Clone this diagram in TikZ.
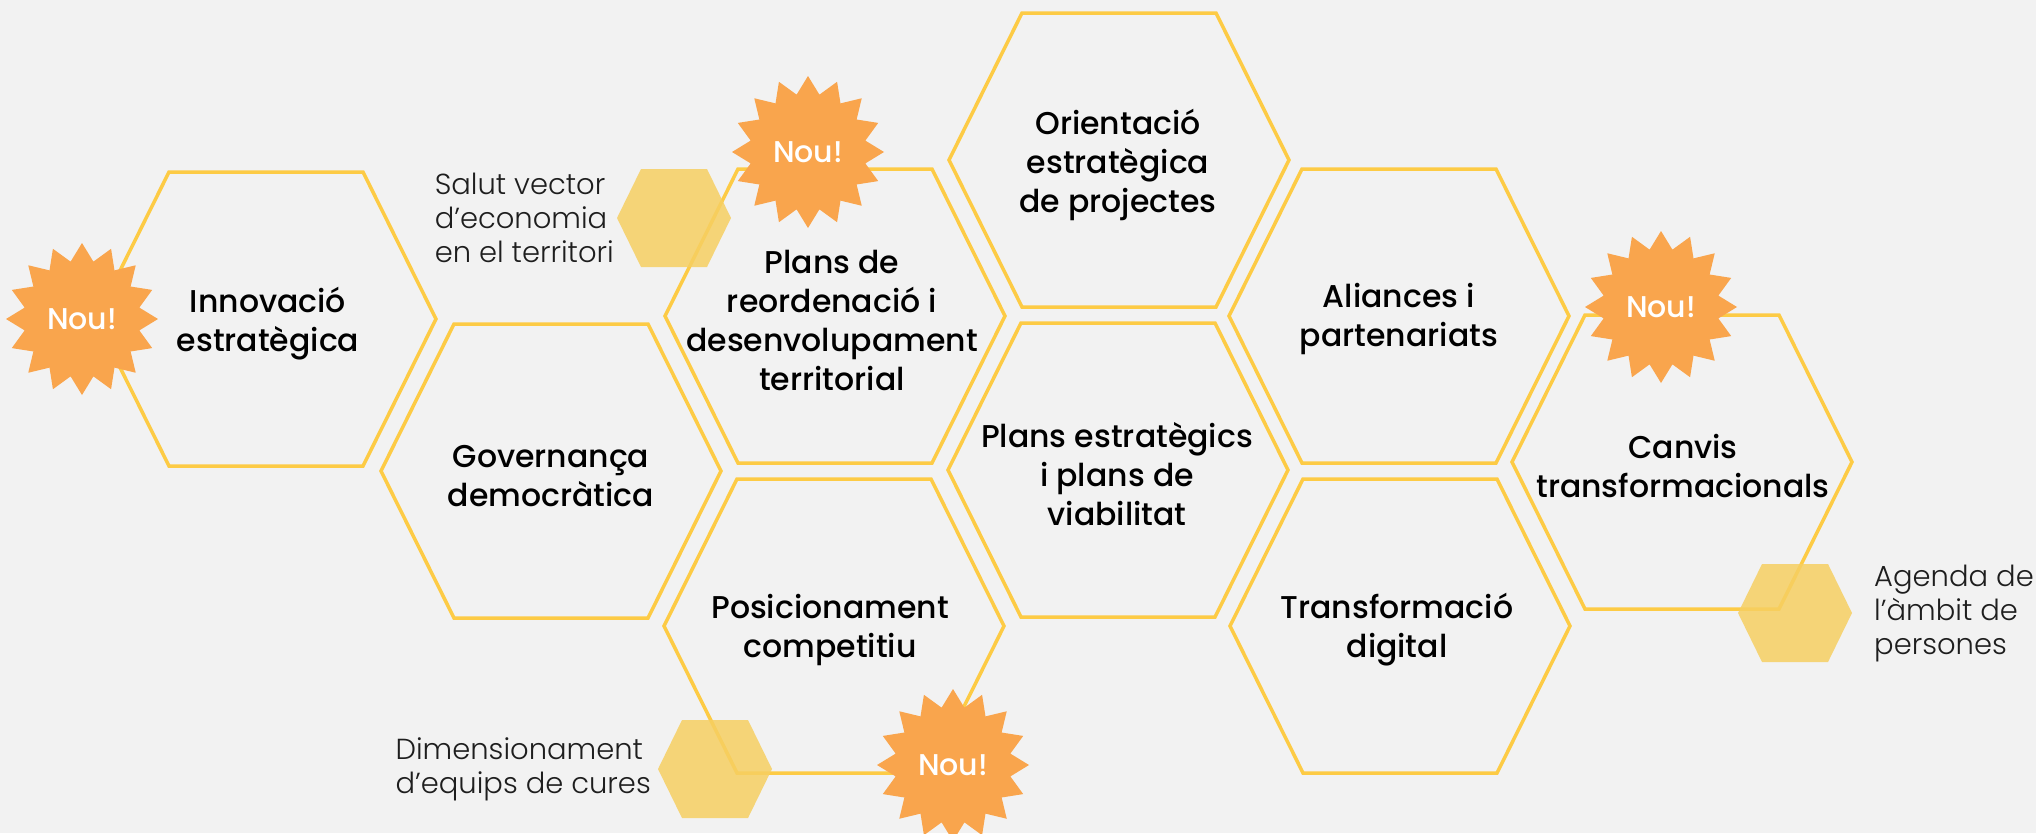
\documentclass[tikz,border=0pt]{standalone}
\usepackage{fontspec}
\setmainfont{Poppins}[UprightFont={* Medium}]
\newfontfamily\lightfont{Poppins}[UprightFont={* Light}]
\usetikzlibrary{shapes.geometric,positioning}

\definecolor{hexgold}{HTML}{FDCB45}
\definecolor{nouorange}{HTML}{F9A54D}
\definecolor{minigold}{HTML}{F6CF62}
\definecolor{paper}{HTML}{F2F2F2}
\definecolor{sideink}{HTML}{1E1E1E}

\tikzset{
  hexline/.style={draw=hexgold, line width=3.5pt, line join=miter},
  minifill/.style={fill=minigold, fill opacity=0.85},
  hexcell/.pic={\draw[hexline] (-170,0) -- (-97,-147) -- (97,-147) -- (170,0) -- (97,147) -- (-97,147) -- cycle;},
  minihex/.pic={\path[minifill] (-57,0) -- (-33,-49) -- (33,-49) -- (57,0) -- (33,49) -- (-33,49) -- cycle;},
  hextext/.style={align=center, text=black, font=\fontsize{31.5}{39}\selectfont},
  sidetext/.style={align=left, text=sideink, font=\lightfont\fontsize{29}{34}\selectfont, inner sep=0pt},
  nou/.style={star, star points=16, star point ratio=1.3, fill=nouorange, text=white,
    minimum size=152pt, inner sep=0pt, font=\fontsize{30}{30}\selectfont}
}

\begin{document}
\begin{tikzpicture}[x=1pt, y=-1pt]
    \useasboundingbox (0,0) rectangle (2036,833);
    \clip (0,0) rectangle (2036,833);
    \fill[paper] (0,0) rectangle (2036,833);

    % honeycomb
    \pic at (266,319) {hexcell};
    \pic at (551,471) {hexcell};
    \pic at (835,316) {hexcell};
    \pic at (834,626) {hexcell};
    \pic at (1119,160) {hexcell};
    \pic at (1118,470) {hexcell};
    \pic at (1399,316) {hexcell};
    \pic at (1400,626) {hexcell};
    \pic at (1682,462) {hexcell};

    \node[hextext] (innovacio) at (268,324) {Innovació\\estratègica};
    \node[hextext] (governanca) at (551,476) {Governança\\democràtica};
    \node[hextext] (reordenacio) at (832,320) {Plans de\\reordenació i\\desenvolupament\\territorial};
    \node[hextext] (posicionament) at (830,630) {Posicionament\\competitiu};
    \node[hextext] (orientacio) at (1118,165) {Orientació\\estratègica\\de projectes};
    \node[hextext] (estrategics) at (1117,474) {Plans estratègics\\i plans de\\viabilitat};
    \node[hextext] (aliances) at (1399,319) {Aliances i\\partenariats};
    \node[hextext] (digital) at (1397,630) {Transformació\\digital};
    \node[hextext] (canvis) at (1683,466) {Canvis\\transformacionals};

    % side topics
    \pic at (674,218) {minihex};
    \pic at (715,769) {minihex};
    \pic at (1795,613) {minihex};
    \coordinate (salutHex) at (674,218);
    \coordinate (curesHex) at (715,769);
    \coordinate (agendaHex) at (1795,613);

    \node[sidetext, left=60pt of salutHex] (salut) {Salut vector\\d’economia\\en el territori};
    \node[sidetext, left=64pt of curesHex] (cures) {Dimensionament\\d’equips de cures};
    \node[sidetext, right=79pt of agendaHex] (agenda) {Agenda de\\l’àmbit de\\persones};

    % novetats
    \node[nou] (nou1) at (82,319) {Nou!};
    \node[nou] (nou2) at (808,152) {Nou!};
    \node[nou] (nou3) at (953,765) {Nou!};
    \node[nou] (nou4) at (1661,307) {Nou!};
\end{tikzpicture}
\end{document}
